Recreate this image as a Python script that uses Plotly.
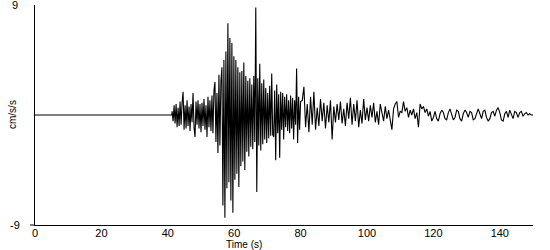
import numpy as np
import plotly.graph_objects as go

# ---- data (acceleration, cm/s/s) ----
pre_time = [0.0, 41.2]
pre_acc = [0.0, 0.0]

strong_t0, strong_dt = 41.3, 0.3
strong_acc = [
    0.3, -0.5, 0.8, -0.7, 0.9, -1.0, 0.6, -0.9, 1.1, -0.8,
    1.0, 1.9, -1.2, 0.8, -1.1, 1.2, -0.9, 0.7, -1.3, 0.9,
    -0.6, 1.8, -1.0, -1.8, 1.1, -0.8, 1.2, -1.1, 0.9, -1.4,
    1.0, -0.9, 1.3, -1.2, 0.8, -1.8, 1.5, -1.0, 1.2, -1.3,
    1.6, -1.5, 2.0, 2.7, -2.2, 1.8, -3.1, 3.3, -2.5, 2.8,
    3.9, -7.4, 4.5, -8.4, 5.2, -6.0, 7.5, -5.5, 6.3, -7.0,
    5.9, -8.0, 4.8, -5.3, 4.5, -4.8, 3.9, -5.9, 3.5, -4.2,
    3.6, -3.8, 4.3, -4.5, 3.2, -3.0, 2.8, -3.4, 3.0, -2.6,
    2.5, -2.8, 3.2, -2.2, 8.8, -6.3, 3.0, -2.5, 4.2, -2.9,
    2.6, -2.4, 2.9, -2.0, 2.2, -2.3, 1.8, -1.9, 2.4, -1.7,
    3.4, -1.6, -1.8, 2.0, -3.7, 2.5, -1.5, 1.7, -3.5, 1.9,
    -1.2, 1.8, -2.0, 1.5, -1.0, 1.7, -1.3, 1.2, -1.5, 1.6,
    -1.1, 1.4, -2.0, 1.2, -0.8, 3.8, -2.3, 1.5, -1.2, 1.1,
]

coda_t0, coda_dt = 80.5, 0.5
coda_acc = [
    1.2, 2.3, -1.0, 0.9, -1.4, 1.5, -0.8, 1.9, -1.2, 0.6,
    -0.9, 1.3, -0.5, 1.0, -1.1, 0.8, -0.6, 1.2, -2.0, 0.7,
    -0.6, 0.9, -0.4, 1.1, -0.7, 0.5, -0.9, 1.0, -0.3, 1.4,
    -0.8, 0.9, -0.5, 1.2, -1.0, 0.4, -0.7, 1.3, -0.4, 0.6,
    -0.5, 0.8, -0.2, 1.0, -0.6, 0.3, -0.8, 0.9, 0.2, -0.5,
    0.7, -0.3, 0.4, -0.6, -1.2, 0.5, 0.9, 1.1, -0.2, 0.3,
    0.2, 1.1, 0.3, 0.6, -0.2, 0.4, 0.0, 0.5, -0.3, 0.2,
    -1.0, 0.9, 0.5, 0.7, 0.2, 0.5, -0.1, 0.3, -0.5, -0.2,
    0.3, -0.3, -0.5, 0.1, 0.4, 0.2, -0.3, -0.4, 0.2, 0.5,
    0.1, -0.4, -0.2, 0.4, 0.3, -0.3, -0.5, 0.1, 0.4, 0.2,
    -0.2, 0.3, 0.2, -0.4, -0.3, 0.2, 0.5, 0.1, -0.3, 0.3,
    0.4, -0.2, -0.5, -0.3, 0.2, 0.3, -0.1, 0.4, 0.6, 0.2,
    -0.4, -0.5, 0.1, 0.3, -0.2, 0.4, 0.1, -0.3, 0.3, 0.2,
    -0.2, 0.2, 0.3, -0.1, 0.1, 0.2, 0.0, 0.1, 0.0, 0.0,
]

x_ticks = [0, 20, 40, 60, 80, 100, 120, 140]
y_ticks = [-9, 9]
x_title = "Time (s)"
y_title = "cm/s/s"

# ---- assemble the series ----
strong_time = strong_t0 + strong_dt * np.arange(len(strong_acc))
coda_time = coda_t0 + coda_dt * np.arange(len(coda_acc))
time = np.concatenate([pre_time, strong_time, coda_time])
acc = np.concatenate([pre_acc, strong_acc, coda_acc])

FONT = "Liberation Sans"
BLACK = "black"

fig = go.Figure()
fig.add_trace(go.Scatter(x=time, y=acc, mode="lines",
                         line=dict(color=BLACK, width=1.1),
                         hoverinfo="skip", showlegend=False))

# y tick labels as annotations (the top one sits at the page edge)
annotations = [
    dict(text=str(v), xref="paper", yref="y", x=0, y=v, xshift=-20,
         showarrow=False, xanchor="center", yanchor="middle",
         font=dict(family=FONT, size=11, color=BLACK))
    for v in y_ticks
]
annotations += [
    dict(text=x_title, xref="x", yref="paper", x=63, y=0,
         yshift=-19.5, showarrow=False, xanchor="center", yanchor="middle",
         font=dict(family=FONT, size=10, color=BLACK)),
    dict(text=y_title, xref="paper", yref="y", x=0, y=0,
         xshift=-23, showarrow=False, textangle=-90,
         xanchor="center", yanchor="middle",
         font=dict(family=FONT, size=10, color=BLACK)),
]

fig.update_layout(
    width=550, height=250,
    margin=dict(l=35, r=17, t=5, b=25),
    paper_bgcolor="white", plot_bgcolor="white",
    font=dict(family=FONT, size=11, color=BLACK),
    showlegend=False,
    xaxis=dict(range=[0, 150], tickvals=x_ticks, ticks="",
               ticklabelstandoff=-2,
               showline=True, linecolor=BLACK, linewidth=1,
               showgrid=False, zeroline=False, fixedrange=True,
               tickfont=dict(family=FONT, size=11, color=BLACK)),
    yaxis=dict(range=[-9, 9], tickvals=y_ticks, ticks="",
               showticklabels=False,
               showline=True, linecolor=BLACK, linewidth=1,
               showgrid=False, zeroline=False, fixedrange=True),
    annotations=annotations,
    shapes=[dict(type="line", xref="paper", yref="paper",
                 x0=-5 / 498, x1=0, y0=0, y1=0,
                 line=dict(color=BLACK, width=1))],
)

fig.write_html("out.html")
